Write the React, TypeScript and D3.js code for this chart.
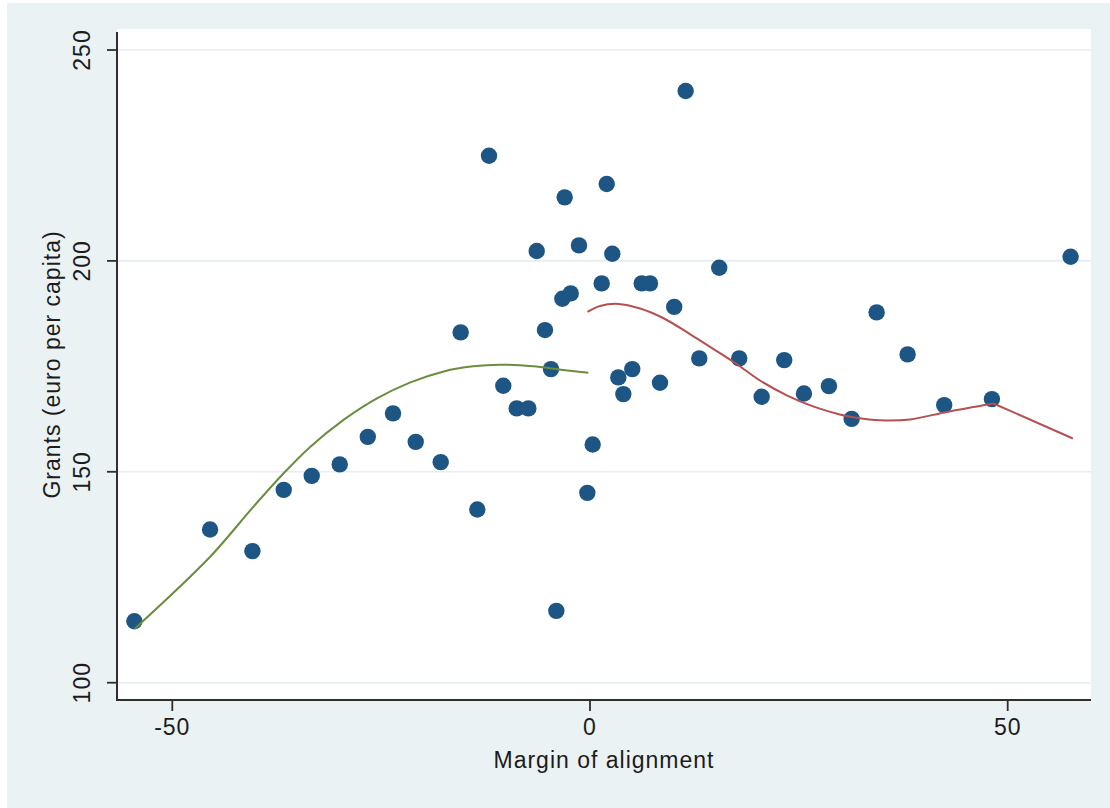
import React from "react";
import * as d3 from "d3";

const pointX = [
  -54.54, -45.48, -40.41, -36.66, -33.31, -29.96, -26.6, -23.58, -20.86, -17.87,
  -15.48, -13.49, -12.09, -10.38, -8.77, -7.38, -6.38, -5.39, -4.67, -4.03,
  -3.31, -3.03, -2.31, -1.32, -0.32, 0.32, 1.4, 2.0, 2.67, 3.39,
  3.99, 5.06, 6.19, 7.18, 8.38, 10.08, 11.45, 13.08, 15.47, 17.86,
  20.55, 23.25, 25.61, 28.6, 31.32, 34.31, 38.02, 42.4, 48.11, 57.53,
];
const pointY = [
  114.58, 136.33, 131.19, 145.72, 149.04, 151.75, 158.29, 163.84, 157.1, 152.29,
  183.05, 141.07, 224.93, 170.39, 165.03, 165.03, 202.33, 183.6, 174.35, 117.03,
  191.02, 215.07, 192.3, 203.68, 145.01, 156.49, 194.67, 218.22, 201.69, 172.38,
  168.42, 174.35, 194.67, 194.67, 171.1, 189.1, 240.27, 176.88, 198.37, 176.88,
  167.78, 176.48, 168.58, 170.31, 162.54, 187.79, 177.83, 165.81, 167.23, 200.98,
];

// Left fit (green)
const leftFitX = [-54.5, -45.5, -40.3, -36.7, -33.5, -29.5, -25.5, -21.5, -17.5, -14.0, -10.8, -6.8, -3.5, -0.2];
const leftFitY = [112.8, 129.8, 141.7, 149.6, 155.9, 162.3, 167.4, 171.2, 173.8, 175.0, 175.4, 175.0, 174.2, 173.5];

// Right fit (red), smooth part
const rightFitX = [-0.3, 1.2, 3.4, 6.0, 8.8, 12.0, 14.8, 17.6, 20.3, 23.5, 26.7, 29.9, 31.9, 34.7, 38.3, 42.7, 48.3];
const rightFitY = [187.9, 189.3, 189.8, 188.7, 186.4, 182.6, 179.1, 175.5, 171.7, 168.2, 165.5, 163.6, 162.8, 162.2, 162.4, 164.2, 166.2];
// Right fit (red), straight tail
const rightTailX = [48.3, 57.8];
const rightTailY = [166.2, 157.9];

const xTicks = [-50, 0, 50];
const yTicks = [100, 150, 200, 250];

const xTitle = "Margin of alignment";
const yTitle = "Grants (euro per capita)";

const W = 1110;
const H = 808;
const plotL = 117;
const plotR = 1091;
const plotT = 29;
const plotB = 700;

const FONT = "'Liberation Sans', Arial, Helvetica, sans-serif";
const TEXT = "#1c1c1c";
const AXIS = "#2e2e2e";

export default function App() {
  const x = d3.scaleLinear().domain([-50, 50]).range([172.3, 1007.7]);
  const y = d3.scaleLinear().domain([100, 250]).range([682.7, 50]);

  const toPts = (xs: number[], ys: number[]) => xs.map((v, i) => [v, ys[i]] as [number, number]);
  const smooth = d3
    .line<[number, number]>()
    .x((d) => x(d[0]))
    .y((d) => y(d[1]))
    .curve(d3.curveCatmullRom.alpha(0.5));
  const straight = d3
    .line<[number, number]>()
    .x((d) => x(d[0]))
    .y((d) => y(d[1]))
    .curve(d3.curveLinear);

  const points = toPts(pointX, pointY);

  return (
    <svg
      width={W}
      height={H}
      style={{ position: "absolute", left: 0, top: 0, display: "block" }}
      xmlns="http://www.w3.org/2000/svg"
    >
      <rect x={0} y={0} width={W} height={H} fill="#ffffff" />
      <rect x={7} y={3} width={W - 7} height={H - 3} fill="#eaf2f4" />
      <rect x={plotL} y={plotT} width={plotR - plotL} height={plotB - plotT} fill="#ffffff" />

      {/* grid */}
      {yTicks.map((t) => (
        <line key={"g" + t} x1={plotL} x2={plotR} y1={y(t)} y2={y(t)} stroke="#e6eef1" strokeWidth={1.6} />
      ))}

      {/* points */}
      {points.map((d, i) => (
        <circle key={"p" + i} cx={x(d[0])} cy={y(d[1])} r={8.2} fill="#1d5584" />
      ))}

      {/* fits */}
      <path d={smooth(toPts(leftFitX, leftFitY)) || ""} fill="none" stroke="#6a8d3e" strokeWidth={2} />
      <path d={smooth(toPts(rightFitX, rightFitY)) || ""} fill="none" stroke="#b4504f" strokeWidth={2} />
      <path d={straight(toPts(rightTailX, rightTailY)) || ""} fill="none" stroke="#b4504f" strokeWidth={2} />

      {/* axes */}
      <line x1={plotL} x2={plotL} y1={32} y2={plotB + 1} stroke={AXIS} strokeWidth={2} />
      <line x1={plotL - 1} x2={plotR} y1={plotB} y2={plotB} stroke={AXIS} strokeWidth={2} />

      {yTicks.map((t) => (
        <g key={"yt" + t}>
          <line x1={107} x2={plotL} y1={y(t)} y2={y(t)} stroke={AXIS} strokeWidth={1.8} />
          <text
            transform={`translate(90,${y(t)}) rotate(-90)`}
            textAnchor="middle"
            fontFamily={FONT}
            fontSize={23}
            letterSpacing={1}
            fill={TEXT}
          >
            {t}
          </text>
        </g>
      ))}

      {xTicks.map((t) => (
        <g key={"xt" + t}>
          <line x1={x(t)} x2={x(t)} y1={plotB} y2={711} stroke={AXIS} strokeWidth={1.8} />
          <text x={x(t)} y={735} textAnchor="middle" fontFamily={FONT} fontSize={23} letterSpacing={1} fill={TEXT}>
            {t}
          </text>
        </g>
      ))}

      <text x={(plotL + plotR) / 2} y={768} textAnchor="middle" fontFamily={FONT} fontSize={23} letterSpacing={1} fill={TEXT}>
        {xTitle}
      </text>
      <text
        transform={`translate(60,${(plotT + plotB) / 2}) rotate(-90)`}
        textAnchor="middle"
        fontFamily={FONT}
        fontSize={23}
        letterSpacing={1}
        fill={TEXT}
      >
        {yTitle}
      </text>
    </svg>
  );
}
